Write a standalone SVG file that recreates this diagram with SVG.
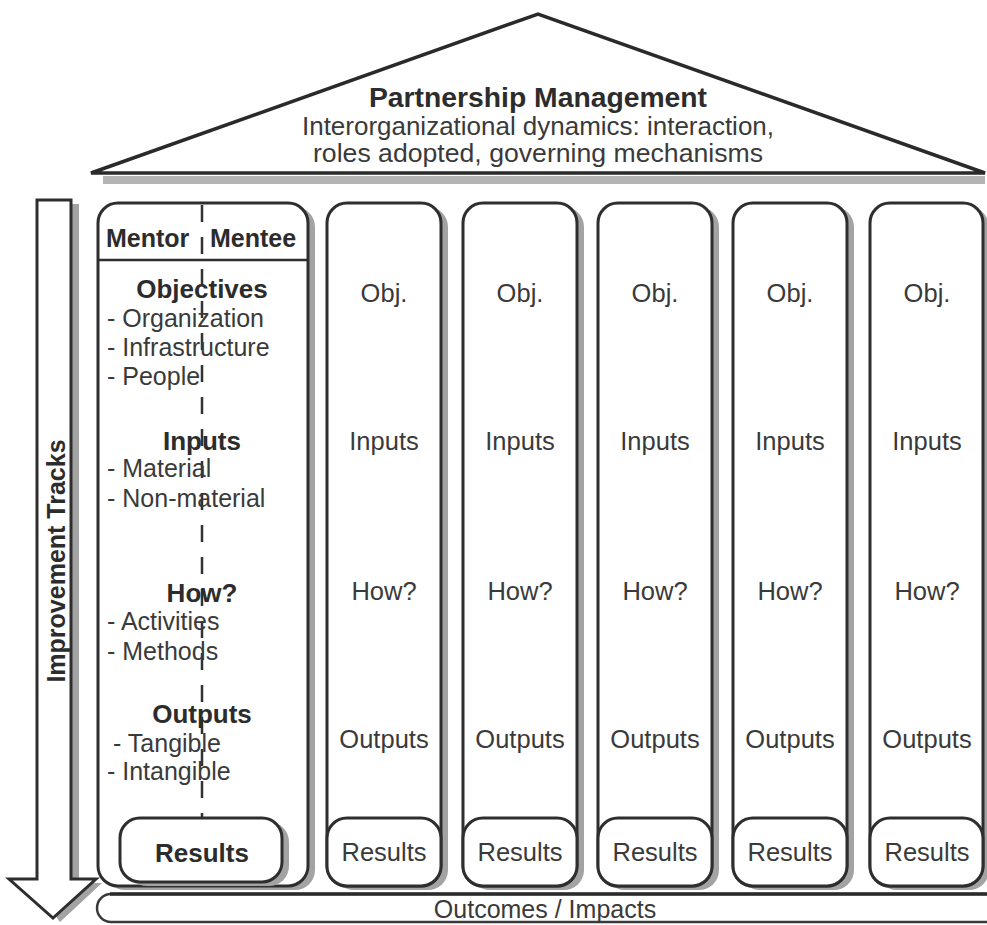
<svg xmlns="http://www.w3.org/2000/svg" width="987" height="925" viewBox="0 0 987 925">
  <style>
    text { font-family: "Liberation Sans", Arial, sans-serif; fill: #3a3a3a; }
    .b { font-weight: bold; fill: #2c2c2c; }
    .h { font-size: 26px; font-weight: bold; fill: #2c2c2c; text-anchor: middle; }
    .li { font-size: 25px; }
    .c { font-size: 25.5px; text-anchor: middle; }
    .box { fill: #ffffff; stroke: #2e2e2e; stroke-width: 3; }
    .sh { fill: #a3a3a3; stroke: none; }
  </style>
  <rect width="987" height="925" fill="#ffffff"/>

  <!-- Roof -->
  <g id="roof">
    <rect x="103" y="176" width="882" height="8" fill="#b4b4b4"/>
    <polygon points="91,173 538,14 985,173" fill="#ffffff" stroke="#2a2a2a" stroke-width="3.5" stroke-linejoin="miter"/>
    <text class="b" x="538" y="107" font-size="27" text-anchor="middle" textLength="338" lengthAdjust="spacingAndGlyphs">Partnership Management</text>
    <text x="538" y="135" font-size="25" text-anchor="middle" textLength="472" lengthAdjust="spacingAndGlyphs">Interorganizational dynamics: interaction,</text>
    <text x="538" y="162" font-size="25" text-anchor="middle" textLength="450" lengthAdjust="spacingAndGlyphs">roles adopted, governing mechanisms</text>
  </g>

  <!-- Improvement Tracks arrow -->
  <g id="arrow">
    <polygon class="sh" points="44,204 79,204 79,883 102,883 60,922 44,900"/>
    <polygon points="37,200 71,200 71,879 96,879 53,918 9,879 37,879" fill="#ffffff" stroke="#2e2e2e" stroke-width="3" stroke-linejoin="miter"/>
    <text class="b" x="0" y="0" font-size="25" text-anchor="middle" transform="translate(65,561) rotate(-90)">Improvement Tracks</text>
  </g>

  <!-- Outcomes bar -->
  <g id="outcomes">
    <rect x="97" y="894" width="920" height="28" rx="14" fill="#ffffff" stroke="#3a3a3a" stroke-width="2.5"/>
    <line x1="110" y1="894" x2="987" y2="894" stroke="#2a2a2a" stroke-width="3.5"/>
    <text x="545" y="918" font-size="25" text-anchor="middle">Outcomes / Impacts</text>
  </g>

  <!-- Column 1: Mentor / Mentee -->
  <g id="col1">
    <rect class="sh" x="105" y="207" width="210" height="683" rx="20"/>
    <rect class="box" x="98" y="203" width="210" height="683" rx="20"/>
    <line x1="98" y1="260" x2="308" y2="260" stroke="#2e2e2e" stroke-width="2.5"/>
    <line x1="202" y1="205" x2="202" y2="818" stroke="#333333" stroke-width="2.5" stroke-dasharray="17 15"/>
    <text class="b" x="106" y="247" font-size="25">Mentor</text>
    <text class="b" x="210" y="247" font-size="25">Mentee</text>
    <text class="h" x="202" y="298">Objectives</text>
    <text class="li" x="107" y="327">- Organization</text>
    <text class="li" x="107" y="356">- Infrastructure</text>
    <text class="li" x="107" y="385">- People</text>
    <text class="h" x="202" y="450">Inputs</text>
    <text class="li" x="107" y="477">- Material</text>
    <text class="li" x="107" y="507">- Non-material</text>
    <text class="h" x="202" y="602">How?</text>
    <text class="li" x="107" y="630">- Activities</text>
    <text class="li" x="107" y="660">- Methods</text>
    <text class="h" x="202" y="723">Outputs</text>
    <text class="li" x="113" y="752">- Tangible</text>
    <text class="li" x="107" y="780">- Intangible</text>
    <rect class="sh" x="127" y="822" width="162" height="64" rx="20"/>
    <rect class="box" x="120" y="818" width="162" height="64" rx="20"/>
    <text class="h" x="202" y="862">Results</text>
  </g>

  <!-- Columns 2-6 -->
  <g id="col2">
    <rect class="sh" x="334" y="207" width="114" height="683" rx="20"/>
    <rect class="box" x="327" y="203" width="114" height="683" rx="20"/>
    <text class="c" x="384" y="302">Obj.</text>
    <text class="c" x="384" y="450">Inputs</text>
    <text class="c" x="384" y="600">How?</text>
    <text class="c" x="384" y="748">Outputs</text>
    <rect class="box" x="327" y="818" width="114" height="68" rx="20"/>
    <text class="c" x="384" y="861">Results</text>
  </g>
  <g id="col3">
    <rect class="sh" x="470" y="207" width="114" height="683" rx="20"/>
    <rect class="box" x="463" y="203" width="114" height="683" rx="20"/>
    <text class="c" x="520" y="302">Obj.</text>
    <text class="c" x="520" y="450">Inputs</text>
    <text class="c" x="520" y="600">How?</text>
    <text class="c" x="520" y="748">Outputs</text>
    <rect class="box" x="463" y="818" width="114" height="68" rx="20"/>
    <text class="c" x="520" y="861">Results</text>
  </g>
  <g id="col4">
    <rect class="sh" x="605" y="207" width="114" height="683" rx="20"/>
    <rect class="box" x="598" y="203" width="114" height="683" rx="20"/>
    <text class="c" x="655" y="302">Obj.</text>
    <text class="c" x="655" y="450">Inputs</text>
    <text class="c" x="655" y="600">How?</text>
    <text class="c" x="655" y="748">Outputs</text>
    <rect class="box" x="598" y="818" width="114" height="68" rx="20"/>
    <text class="c" x="655" y="861">Results</text>
  </g>
  <g id="col5">
    <rect class="sh" x="740" y="207" width="114" height="683" rx="20"/>
    <rect class="box" x="733" y="203" width="114" height="683" rx="20"/>
    <text class="c" x="790" y="302">Obj.</text>
    <text class="c" x="790" y="450">Inputs</text>
    <text class="c" x="790" y="600">How?</text>
    <text class="c" x="790" y="748">Outputs</text>
    <rect class="box" x="733" y="818" width="114" height="68" rx="20"/>
    <text class="c" x="790" y="861">Results</text>
  </g>
  <g id="col6">
    <rect class="sh" x="877" y="207" width="112" height="683" rx="20"/>
    <rect class="box" x="870" y="203" width="113" height="683" rx="20"/>
    <text class="c" x="927" y="302">Obj.</text>
    <text class="c" x="927" y="450">Inputs</text>
    <text class="c" x="927" y="600">How?</text>
    <text class="c" x="927" y="748">Outputs</text>
    <rect class="box" x="870" y="818" width="113" height="68" rx="20"/>
    <text class="c" x="927" y="861">Results</text>
  </g>

  <g id="connectors"/>
</svg>
